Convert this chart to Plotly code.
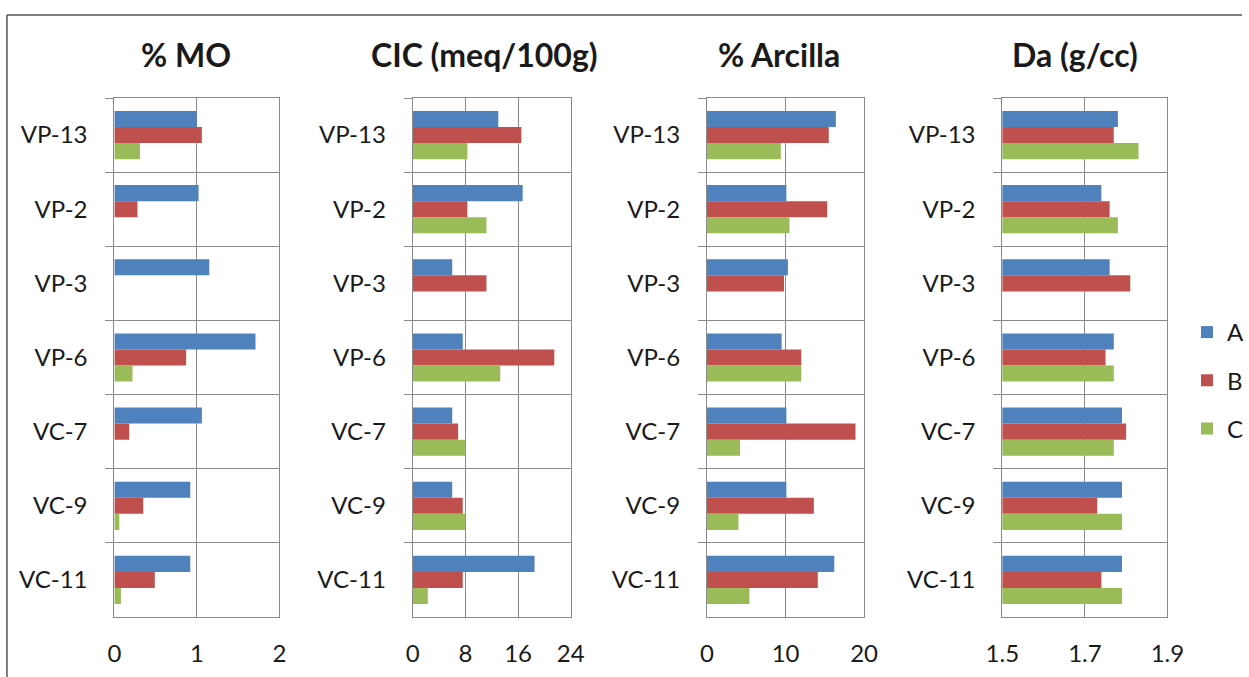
import plotly.graph_objects as go

W, H = 1249, 677

categories = ["VP-13", "VP-2", "VP-3", "VP-6", "VC-7", "VC-9", "VC-11"]
series_names = ["A", "B", "C"]
series_colors = ["#4F81BD", "#C0504D", "#9BBB59"]

# % MO
mo_A = [1.00, 1.02, 1.15, 1.71, 1.06, 0.92, 0.92]
mo_B = [1.06, 0.28, None, 0.87, 0.18, 0.35, 0.49]
mo_C = [0.31, None, None, 0.22, None, 0.06, 0.08]

# CIC (meq/100g)
cic_A = [13.0, 16.7, 6.0, 7.6, 6.0, 6.0, 18.5]
cic_B = [16.5, 8.3, 11.2, 21.5, 6.9, 7.6, 7.6]
cic_C = [8.3, 11.2, None, 13.3, 8.0, 8.0, 2.3]

# % Arcilla
arc_A = [16.4, 10.1, 10.3, 9.5, 10.1, 10.1, 16.2]
arc_B = [15.5, 15.3, 9.8, 12.0, 18.9, 13.6, 14.1]
arc_C = [9.4, 10.5, None, 12.0, 4.2, 4.0, 5.4]

# Da (g/cc)
da_A = [1.78, 1.74, 1.76, 1.77, 1.79, 1.79, 1.79]
da_B = [1.77, 1.76, 1.81, 1.75, 1.80, 1.73, 1.74]
da_C = [1.83, 1.78, None, 1.77, 1.77, 1.79, 1.79]

titles = ["% MO", "CIC (meq/100g)", "% Arcilla", "Da (g/cc)"]
panel_data = [
    [mo_A, mo_B, mo_C],
    [cic_A, cic_B, cic_C],
    [arc_A, arc_B, arc_C],
    [da_A, da_B, da_C],
]
x_ranges = [[0, 2], [0, 24], [0, 20], [1.5, 1.9]]
x_ticks = [[0, 1, 2], [0, 8, 16, 24], [0, 10, 20], [1.5, 1.7, 1.9]]
x_ticktext = [["0", "1", "2"], ["0", "8", "16", "24"], ["0", "10", "20"], ["1.5", "1.7", "1.9"]]

# layout geometry (pixels)
panel_x = [(115, 281), (415, 574), (711, 869), (1008, 1174)]
plot_top, plot_bottom = 98, 617
title_cx = [187, 487, 783, 1081]
title_cy = 54

FONT = "Lato"
TXT = "#1a1a1a"
GRID = "#8a8a8a"

fig = go.Figure()

for p in range(4):
    xa = "x" if p == 0 else f"x{p+1}"
    ya = "y" if p == 0 else f"y{p+1}"
    for s in range(3):
        fig.add_trace(go.Bar(
            y=categories, x=panel_data[p][s], orientation="h",
            name=series_names[s], marker=dict(color=series_colors[s], line=dict(width=0)),
            legendgroup=series_names[s], showlegend=(p == 0),
            xaxis=xa, yaxis=ya,
        ))

layout = dict(
    width=W, height=H,
    margin=dict(l=0, r=0, t=0, b=0),
    paper_bgcolor="white", plot_bgcolor="white",
    template="none",
    barmode="group", bargap=0.35, bargroupgap=0,
    font=dict(family=FONT, size=24, color=TXT),
    showlegend=True,
    legend=dict(
        x=1194 / W, y=1 - 310 / H, xanchor="left", yanchor="top",
        font=dict(family=FONT, size=24, color=TXT),
        tracegroupgap=14, itemwidth=30, bgcolor="rgba(0,0,0,0)",
    ),
)

annotations = []
for p in range(4):
    xk = "xaxis" if p == 0 else f"xaxis{p+1}"
    yk = "yaxis" if p == 0 else f"yaxis{p+1}"
    xa = "x" if p == 0 else f"x{p+1}"
    ya = "y" if p == 0 else f"y{p+1}"
    x0, x1 = panel_x[p]
    layout[xk] = dict(
        domain=[x0 / W, x1 / W], anchor=ya,
        range=x_ranges[p], tickvals=x_ticks[p], ticktext=x_ticktext[p],
        showgrid=True, gridcolor=GRID, gridwidth=1,
        showline=True, linecolor=GRID, linewidth=1, mirror=True,
        zeroline=False, ticks="", ticklabelstandoff=15,
        tickfont=dict(family=FONT, size=24, color=TXT),
        automargin=False, fixedrange=True,
    )
    layout[yk] = dict(
        domain=[1 - plot_bottom / H, 1 - plot_top / H], anchor=xa,
        type="category", categoryarray=categories, categoryorder="array",
        range=[len(categories) - 0.5, -0.5],
        tickson="boundaries", ticks="outside", ticklen=8, tickcolor=GRID, tickwidth=1,
        showgrid=True, gridcolor=GRID, gridwidth=1,
        showline=True, linecolor=GRID, linewidth=1, mirror=True,
        zeroline=False, ticklabelstandoff=21,
        tickfont=dict(family=FONT, size=24, color=TXT),
        automargin=False, fixedrange=True,
    )
    annotations.append(dict(
        text=f"<b>{titles[p]}</b>", x=title_cx[p] / W, y=1 - title_cy / H,
        xref="paper", yref="paper", xanchor="center", yanchor="middle",
        showarrow=False, font=dict(family=FONT, size=32, color=TXT),
    ))

layout["annotations"] = annotations
layout["shapes"] = [
    dict(type="line", xref="paper", yref="paper", x0=7 / W, x1=1.0, y0=1 - 15 / H, y1=1 - 15 / H,
         line=dict(color="#555555", width=1.5)),
    dict(type="line", xref="paper", yref="paper", x0=7 / W, x1=7 / W, y0=1 - 15 / H, y1=0,
         line=dict(color="#555555", width=1.5)),
]

fig.update_layout(**layout)
fig.write_html(
    "out.html",
    config={"displayModeBar": False},
    post_script="document.body.style.margin='0';document.body.style.overflow='hidden';",
)
